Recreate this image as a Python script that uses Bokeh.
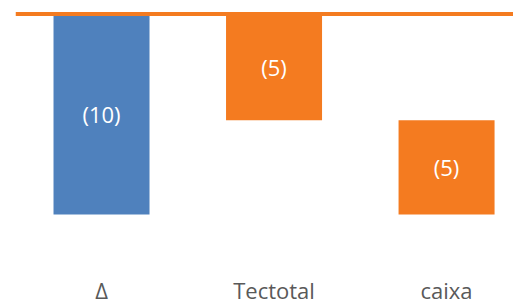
from bokeh.plotting import figure
from bokeh.models import Range1d, Span, ColumnDataSource
from bokeh.core.properties import value
from bokeh.embed import file_html
from bokeh.resources import INLINE

categories = ["Δ", "Tectotal", "caixa"]
values = [-10.0, -5.3, -4.7]
is_total = [True, False, False]
colors = ["#4F81BD", "#F47B20", "#F47B20"]

# waterfall geometry from the values
tops, bottoms = [], []
running = 0.0
for v, t in zip(values, is_total):
    if t:
        tops.append(0.0)
        bottoms.append(v)
    else:
        tops.append(running)
        running += v
        bottoms.append(running)
labels = ["({})".format(int(round(abs(v)))) for v in values]
xs = list(range(len(categories)))

W, H = 513, 305
PX_PER_UNIT = 20.05
y_end = 0.673
y_start = y_end - H / PX_PER_UNIT
cat_mid = y_end - 289.5 / PX_PER_UNIT  # vertical centre of the category texts

src = ColumnDataSource(dict(
    x=xs, top=tops, bottom=bottoms, color=colors, label=labels,
    mid=[(a + b) / 2 for a, b in zip(tops, bottoms)],
    cat=categories, base=[cat_mid] * len(xs),
))

p = figure(width=W, height=H, output_backend="svg", toolbar_location=None,
           x_range=Range1d(-0.4986, 2.388), y_range=Range1d(y_start, y_end),
           min_border_left=15, min_border_right=0, min_border_top=0,
           min_border_bottom=0,
           styles={"position": "absolute", "left": "0px", "top": "0px"})
p.outline_line_color = None
p.background_fill_color = "white"
p.border_fill_color = "white"
p.xgrid.visible = False
p.ygrid.visible = False
p.xaxis.visible = False
p.yaxis.visible = False

p.vbar(x="x", width=0.5565, top="top", bottom="bottom", fill_color="color",
       line_color=None, source=src)
p.text(x="x", y="mid", text="label", source=src, text_color="white",
       text_align="center", text_baseline="middle",
       text_font=value("Open Sans"), text_font_size="22px")

# category labels along the bottom edge
p.text(x="x", y="base", text="cat", source=src, text_color="#595959",
       text_align="center", text_baseline="middle",
       text_font=value("Open Sans"), text_font_size="22px")

p.add_layout(Span(location=0, dimension="width", line_color="#F47B20",
                  line_width=4))

open("out.html", "w").write(file_html(p, INLINE))
